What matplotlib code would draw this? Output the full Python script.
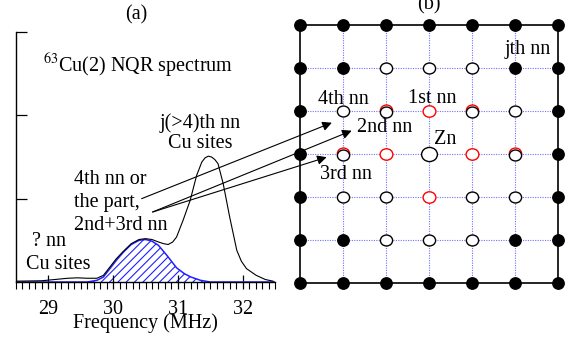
import matplotlib
matplotlib.use("Agg")
import matplotlib.pyplot as plt
from matplotlib.patches import ConnectionPatch, Rectangle
from matplotlib.path import Path
from matplotlib.transforms import Affine2D
from matplotlib.ticker import MultipleLocator

plt.rcParams['font.family'] = ['Liberation Serif', 'DejaVu Serif']
plt.rcParams['mathtext.fontset'] = 'stix'
plt.rcParams['hatch.linewidth'] = 0.8

# 63Cu(2) NQR spectrum: total line shape and the satellite component
freq_total = [28.50, 28.90, 29.10, 29.30, 29.45, 29.60, 29.75, 29.85, 29.95, 30.05,
              30.16, 30.28, 30.40, 30.50, 30.60, 30.70, 30.78, 30.85, 30.92, 30.98,
              31.08, 31.19, 31.29, 31.37, 31.42, 31.47, 31.52, 31.57, 31.62, 31.70,
              31.80, 31.91, 31.98, 32.06, 32.21, 32.35, 32.47]
int_total = [0.01, 0.015, 0.03, 0.045, 0.05, 0.045, 0.045, 0.08, 0.18, 0.28,
             0.37, 0.46, 0.51, 0.52, 0.51, 0.48, 0.46, 0.45, 0.48, 0.54,
             0.74, 0.98, 1.28, 1.44, 1.49, 1.51, 1.50, 1.47, 1.42, 1.18,
             0.78, 0.38, 0.25, 0.16, 0.08, 0.03, 0.01]

freq_sat = [28.50, 29.60, 29.75, 29.85, 29.95, 30.05, 30.16, 30.28, 30.40, 30.50,
            30.60, 30.70, 30.83, 30.98, 31.10, 31.20, 31.35, 31.50, 32.50]
int_sat = [0.0, 0.0, 0.02, 0.06, 0.16, 0.26, 0.36, 0.45, 0.50, 0.51,
           0.49, 0.44, 0.32, 0.17, 0.10, 0.06, 0.02, 0.0, 0.0]

freq_ticks = [29, 30, 31, 32]

# CuO2 plane around one Zn: F = far Cu (filled), O = open Cu, R = 1st nn,
# P = open Cu drawn over a red ring, Z = Zn
lattice = ["FFFFFFF",
           "FFOOOFF",
           "FOPRPOF",
           "FPRZRPF",
           "FOOROOF",
           "FFOOOFF",
           "FFFFFFF"]

fig = plt.figure(figsize=(5.86, 3.41), dpi=100)
W, H = 586.0, 341.0

# ---- (a) spectrum
ax1 = fig.add_axes([16 / W, (H - 282) / H, 259 / W, 250 / H])
ax1.fill_between(freq_sat, int_sat, 0, facecolor='none', edgecolor='#2020ff',
                 hatch='////', linewidth=0)
ax1.plot(freq_sat, int_sat, color='#2020ff', lw=1.1)
ax1.plot(freq_total, int_total, color='black', lw=0.8)
ax1.set_xlim(28.5, 32.5)
ax1.set_ylim(0, 3)
for s in ['top', 'right']:
    ax1.spines[s].set_visible(False)
for s in ['left', 'bottom']:
    ax1.spines[s].set_linewidth(1.0)
ax1.set_xticks(freq_ticks)
ax1.set_xticklabels([str(t) for t in freq_ticks], fontsize=14.5)
ax1.xaxis.set_minor_locator(MultipleLocator(0.1))
ax1.tick_params(axis='x', which='major', direction='inout', length=10, width=0.9, pad=8)
ax1.tick_params(axis='x', which='minor', direction='out', length=5, width=0.8)
ax1.set_yticks([1, 2, 3])
ax1.set_yticklabels([])
ax1.tick_params(axis='y', direction='in', length=8, width=0.9)
ax1.set_xlabel('Frequency (MHz)', fontsize=14.5, labelpad=-4)

fs = 14.5
ax1.text(30.36, 3.2, '(a)', fontsize=fs, ha='center', va='center', clip_on=False)
ax1.text(28.92, 2.52, r'$^{63}$Cu(2) NQR spectrum', fontsize=fs, ha='left', va='baseline')
ax1.text(31.35, 1.91, 'j(>4)th nn', fontsize=fs, ha='center', va='center')
ax1.text(31.35, 1.66, 'Cu sites', fontsize=fs, ha='center', va='center')
for txt, h in zip(['4th nn or', 'the part,', '2nd+3rd nn'], [1.23, 0.95, 0.68]):
    ax1.text(29.40, h, txt, fontsize=fs, ha='left', va='center')
ax1.text(28.75, 0.48, '? nn', fontsize=fs, ha='left', va='center')
ax1.text(28.65, 0.21, 'Cu sites', fontsize=fs, ha='left', va='center')

# ---- (b) lattice
ax2 = fig.add_axes([300 / W, (H - 283.3) / H, 258.3 / W, 258.3 / H])
ax2.set_xlim(0, 6)
ax2.set_ylim(6, 0)
ax2.axis('off')
grid_col = '#7070ff'
for k in range(1, 6):
    ax2.plot([k, k], [0, 6], color=grid_col, lw=0.8, ls=(0, (1, 1.2)), zorder=1)
    ax2.plot([0, 6], [k, k], color=grid_col, lw=0.8, ls=(0, (1, 1.2)), zorder=1)
ax2.add_patch(Rectangle((0, 0), 6, 6, fill=False, ec='black', lw=1.2, zorder=2,
                        clip_on=False))

ellipse = Path.unit_circle().transformed(Affine2D().scale(1.12, 1.0))
for row, line in enumerate(lattice):
    for col, kind in enumerate(line):
        if kind == 'F':
            ax2.plot(col, row, 'o', color='black', ms=8.2, zorder=3, clip_on=False)
        elif kind == 'O':
            ax2.plot(col, row, marker=ellipse, ms=8.8, mfc='white', mec='black',
                     mew=1.0, zorder=3, clip_on=False)
        elif kind == 'P':
            ax2.plot(col, row - 0.03, marker=ellipse, ms=8.8, mfc='white', mec='red',
                     mew=1.0, zorder=3, clip_on=False)
            ax2.plot(col, row + 0.02, marker=ellipse, ms=8.8, mfc='white', mec='black',
                     mew=1.0, zorder=4, clip_on=False)
        elif kind == 'R':
            ax2.plot(col, row, marker=ellipse, ms=9.2, mfc='white', mec='red',
                     mew=1.0, zorder=3, clip_on=False)
        elif kind == 'Z':
            ax2.plot(col, row, marker=ellipse, ms=11.4, mfc='white', mec='black',
                     mew=1.0, zorder=3, clip_on=False)

ax2.text(3.0, -0.47, '(b)', fontsize=fs, ha='center', va='center', clip_on=False)
ax2.text(5.30, 0.58, 'jth nn', fontsize=fs, ha='center', va='center', zorder=5)
ax2.text(1.0, 1.72, '4th nn', fontsize=fs, ha='center', va='center', zorder=5)
ax2.text(3.08, 1.70, '1st nn', fontsize=fs, ha='center', va='center', zorder=5)
ax2.text(1.32, 2.39, '2nd nn', fontsize=fs, ha='left', va='center', zorder=5)
ax2.text(3.11, 2.65, 'Zn', fontsize=fs, ha='left', va='center', zorder=5)
ax2.text(0.46, 3.48, '3rd nn', fontsize=fs, ha='left', va='center', zorder=5)

# arrows from the spectrum labels to the lattice sites
for tail, head in [((30.44, 1.00), (0.74, 2.27)),
                   ((30.61, 0.84), (1.20, 2.455)),
                   ((30.61, 0.84), (0.62, 3.07))]:
    con = ConnectionPatch(xyA=tail, coordsA=ax1.transData, xyB=head, coordsB=ax2.transData,
                          arrowstyle='-|>', mutation_scale=14, lw=0.8, color='black',
                          shrinkA=0, shrinkB=0, zorder=6)
    fig.add_artist(con)

fig.savefig('out.png', dpi=100)
